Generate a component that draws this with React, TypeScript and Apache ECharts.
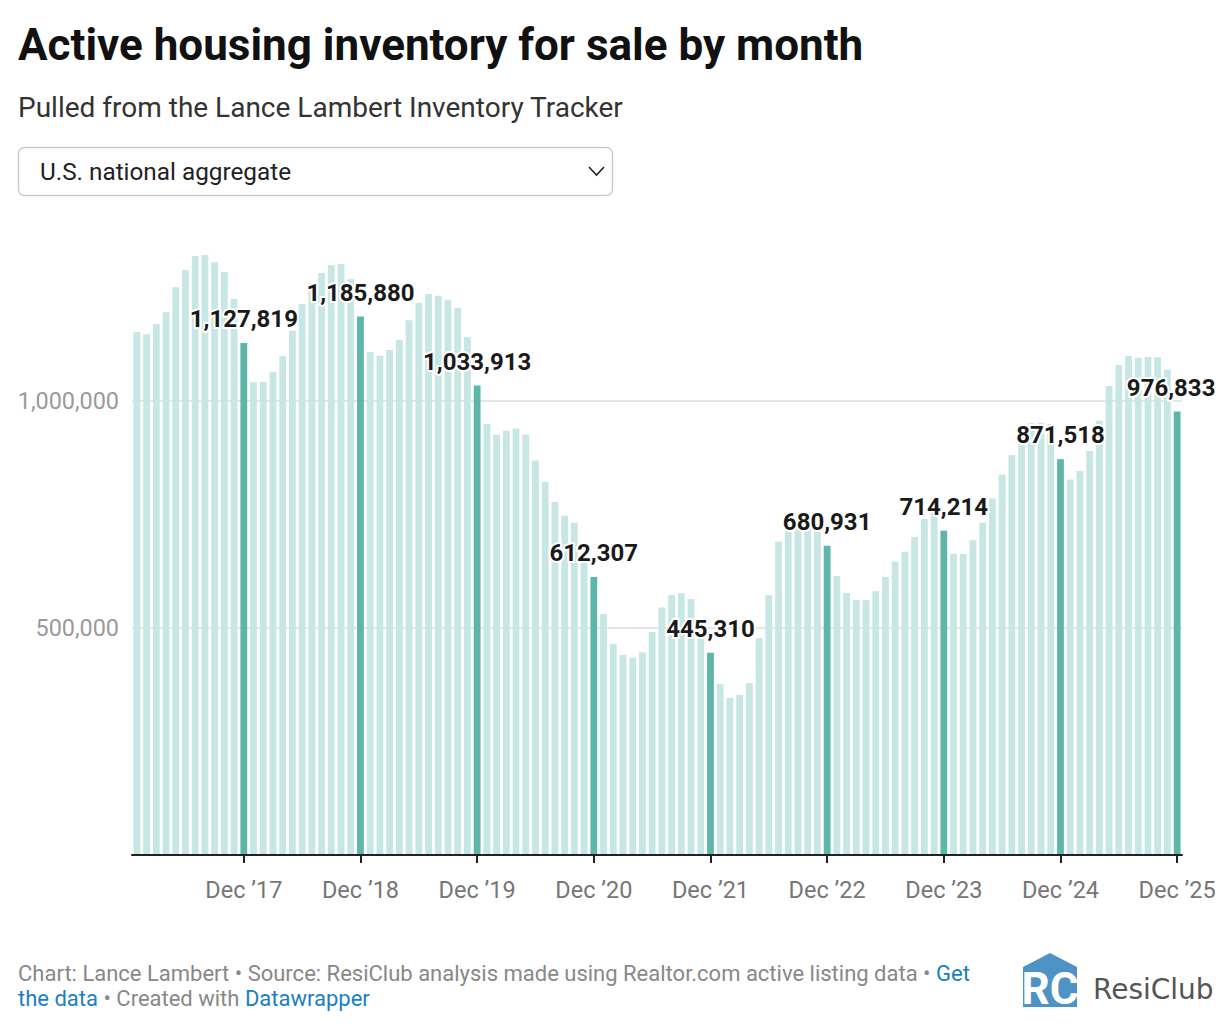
import React, { useEffect, useRef } from "react";
import * as echarts from "echarts";

const years = ["17", "18", "19", "20", "21", "22", "23", "24", "25"];
const monthNames = ["Jan", "Feb", "Mar", "Apr", "May", "Jun", "Jul", "Aug", "Sep", "Oct", "Nov", "Dec"];
const categories = years.flatMap((y) => monthNames.map((m) => `${m} ’${y}`));

const values2017 = [1151900, 1146900, 1169600, 1195300, 1250400, 1288500, 1319400, 1321600, 1305500, 1284100, 1224600, 1127819];
const values2018 = [1041200, 1041800, 1063900, 1099100, 1154800, 1213600, 1259200, 1281900, 1298800, 1301600, 1268700, 1185880];
const values2019 = [1107900, 1099800, 1112300, 1134300, 1177700, 1215800, 1235700, 1232000, 1221700, 1204800, 1140200, 1033913];
const values2020 = [949300, 925700, 934500, 939700, 925700, 869200, 821600, 777500, 747300, 731900, 668000, 612307];
const values2021 = [530800, 464700, 440500, 434600, 446500, 491200, 545400, 572700, 576400, 563900, 505000, 445310];
const values2022 = [376600, 345800, 353100, 378800, 477900, 572000, 689800, 720000, 735000, 740000, 730000, 680931];
const values2023 = [614500, 577100, 561700, 561700, 581500, 612300, 645800, 668000, 700400, 740000, 755000, 714214];
const values2024 = [663600, 663000, 693200, 731900, 785000, 837400, 881000, 925000, 950800, 952200, 949300, 871518];
const values2025 = [827300, 845800, 889900, 956600, 1033000, 1079300, 1099100, 1095400, 1096900, 1096100, 1068800, 976833];

const values = [
  ...values2017, ...values2018, ...values2019, ...values2020, ...values2021,
  ...values2022, ...values2023, ...values2024, ...values2025,
];

const yTicks = [0, 500000, 1000000, 1500000];

const LIGHT = "#c6e7e3";
const DARK = "#5eb5aa";
const FONT = "Roboto, 'Noto Sans', sans-serif";

const fmt = (v: number) => v.toLocaleString("en-US");

export default function App() {
  const ref = useRef<HTMLDivElement>(null);

  useEffect(() => {
    document.body.style.margin = "0";
    document.body.style.overflow = "hidden";
    if (!ref.current) return;
    const chart = echarts.init(ref.current, undefined, { renderer: "svg" });

    const data = values.map((v, i) => {
      const isDec = i % 12 === 11;
      if (!isDec) return { value: v };
      return {
        value: v,
        itemStyle: { color: DARK },
        label: {
          show: true,
          position: "top",
          distance: 12,
          offset: i === values.length - 1 ? [-6, 0] : [0, 0],
          formatter: (p: any) => fmt(p.value),
          fontFamily: FONT,
          fontSize: 24,
          fontWeight: "bold",
          color: "#1a1a1a",
          textBorderColor: "#ffffff",
          textBorderWidth: 4,
        },
      };
    });

    chart.setOption({
      animation: false,
      backgroundColor: "#ffffff",
      grid: { left: 132, right: 48, top: 174, bottom: 175, containLabel: false },
      xAxis: {
        type: "category",
        data: categories,
        boundaryGap: true,
        z: 10,
        axisLine: { show: true, lineStyle: { color: "#222", width: 2 } },
        axisTick: {
          show: true,
          alignWithLabel: true,
          length: 8,
          lineStyle: { color: "#222", width: 2 },
          interval: (idx: number) => idx % 12 === 11,
        },
        axisLabel: {
          interval: (idx: number) => idx % 12 === 11,
          margin: 23,
          fontFamily: FONT,
          fontSize: 23.5,
          color: "#767676",
        },
        splitLine: { show: false },
      },
      yAxis: {
        type: "value",
        min: yTicks[0],
        max: yTicks[yTicks.length - 1],
        interval: yTicks[1] - yTicks[0],
        axisLine: { show: false },
        axisTick: { show: false },
        axisLabel: {
          margin: 13,
          fontFamily: FONT,
          fontSize: 23.4,
          color: "#9a9a9a",
          showMaxLabel: false,
          formatter: (v: number) => (v === yTicks[0] || v === yTicks[yTicks.length - 1] ? "" : fmt(v)),
        },
        splitLine: {
          show: true,
          showMinLine: false,
          showMaxLine: false,
          lineStyle: { color: ["#e6e6e6", "#e6e6e6", "#e6e6e6", "rgba(0,0,0,0)"], width: 2 },
        },
      },
      series: [
        {
          type: "bar",
          data,
          barCategoryGap: "30%",
          itemStyle: { color: LIGHT },
          label: { show: false },
          emphasis: { disabled: true },
        },
      ],
      graphic: [
        {
          type: "text",
          style: {
            text: "Active housing inventory for sale by month",
            x: 18, y: 45,
            fontFamily: FONT, fontSize: 44, fontWeight: "bold",
            fill: "#111",
            textVerticalAlign: "middle", verticalAlign: "middle",
          },
        },
        {
          type: "text",
          style: {
            text: "Pulled from the Lance Lambert Inventory Tracker",
            x: 18, y: 107,
            fontFamily: FONT, fontSize: 28,
            fill: "#333",
            textVerticalAlign: "middle", verticalAlign: "middle",
          },
        },
        {
          type: "rect",
          shape: { x: 18.5, y: 147.5, width: 594, height: 48, r: 6 },
          style: { fill: "#fff", stroke: "#cccccc", lineWidth: 1.5 },
        },
        {
          type: "text",
          style: {
            text: "U.S. national aggregate",
            x: 40, y: 171.5,
            fontFamily: FONT, fontSize: 24.3,
            fill: "#222",
            textVerticalAlign: "middle", verticalAlign: "middle",
          },
        },
        {
          type: "polyline",
          shape: { points: [[589, 167], [596.5, 175], [604, 167]] },
          style: { fill: "none", stroke: "#222", lineWidth: 1.6 },
        },
        {
          type: "text",
          style: {
            text: "{g|Chart: Lance Lambert • Source: ResiClub analysis made using Realtor.com active listing data • }{b|Get}",
            x: 18, y: 973,
            textVerticalAlign: "middle", verticalAlign: "middle",
            rich: {
              g: { fontFamily: FONT, fontSize: 22, fill: "#888", color: "#888" },
              b: { fontFamily: FONT, fontSize: 22, fill: "#1a7fc2", color: "#1a7fc2" },
            },
          },
        },
        {
          type: "text",
          style: {
            text: "{b|the data}{g| • Created with }{b|Datawrapper}",
            x: 18, y: 998,
            textVerticalAlign: "middle", verticalAlign: "middle",
            rich: {
              g: { fontFamily: FONT, fontSize: 22, fill: "#888", color: "#888" },
              b: { fontFamily: FONT, fontSize: 22, fill: "#1a7fc2", color: "#1a7fc2" },
            },
          },
        },
        {
          type: "polygon",
          shape: { points: [[1023, 967], [1050, 953], [1077, 967], [1077, 1007], [1023, 1007]] },
          style: { fill: "#4d93c6" },
        },
        {
          type: "text",
          style: {
            text: "RC",
            x: 1050, y: 989,
            fontFamily: FONT, fontSize: 44, fontWeight: "bold",
            fill: "#fff",
            textAlign: "center", align: "center",
            textVerticalAlign: "middle", verticalAlign: "middle",
          },
        },
        {
          type: "text",
          style: {
            text: "ResiClub",
            x: 1093, y: 989,
            fontFamily: "'DejaVu Sans', sans-serif", fontSize: 28,
            fill: "#555",
            textVerticalAlign: "middle", verticalAlign: "middle",
          },
        },
      ],
    });

    return () => chart.dispose();
  }, []);

  return <div ref={ref} style={{ width: 1230, height: 1030 }} />;
}
